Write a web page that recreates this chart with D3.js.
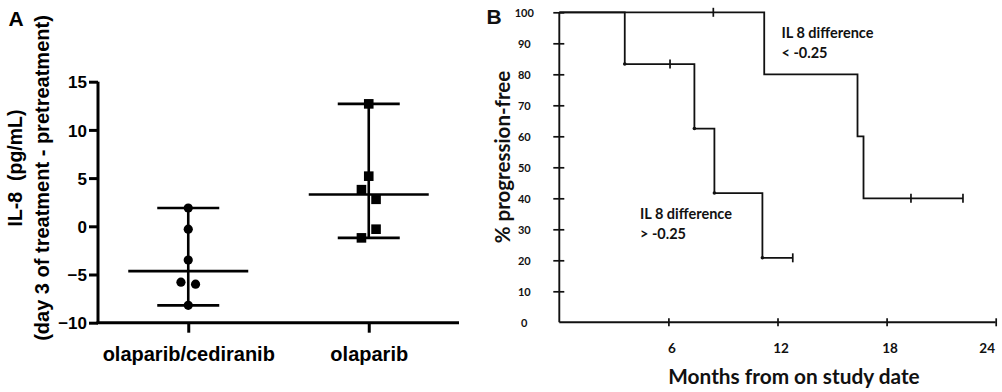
<!DOCTYPE html>
<html>
<head>
<meta charset="utf-8">
<script src="https://cdn.jsdelivr.net/npm/d3@7"></script>
<style>
  body { margin: 0; background: #fff; }
  svg { display: block; }
  .pa text { font-family: "Liberation Sans", Arial, sans-serif; font-weight: bold; fill: #000; }
  .pb text { font-family: "Lato", "Open Sans", sans-serif; fill: #111; }
</style>
</head>
<body>
<div id="chart"></div>
<script>
// panel A: IL-8 change per arm
const armNames = ["olaparib/cediranib", "olaparib"];
const comboVals = [1.9, -0.3, -3.5, -5.8, -6.0, -8.2];
const comboJitter = [0, 0, 0, -1, 1, 0];
const olapVals = [12.7, 5.2, 3.8, 2.8, -0.3, -1.2];
const olapJitter = [0, 0, -1, 1, 1, -1];
const aTicks = [-10, -5, 0, 5, 10, 15];

// panel B: Kaplan-Meier, progression-free
const lowTimes = [0, 3.6, 7.43, 8.53, 11.17];
const lowSurv = [100, 83.3, 62.5, 41.7, 20.8];
const lowEnd = 12.84;
const lowCensT = [6.09, 12.84];
const lowCensS = [83.3, 20.8];
const highTimes = [0, 11.27, 16.4, 16.73];
const highSurv = [100, 80, 60, 40];
const highEnd = 22.2;
const highCensT = [8.47, 19.34, 22.2];
const highCensS = [100, 40, 40];
const bYTicks = [0, 10, 20, 30, 40, 50, 60, 70, 80, 90, 100];
const bXTicks = [6, 12, 18, 24];

const W = 1002, H = 392;
const svg = d3.select("#chart").append("svg").attr("width", W).attr("height", H);

// ---------- panel A ----------
const ga = svg.append("g").attr("class", "pa");
const yA = d3.scaleLinear().domain([-10, 15]).range([322.7, 81.7]);
const xA = d3.scalePoint().domain(armNames).range([98, 459]).padding(0.5);

ga.append("text").attr("x", 16).attr("y", 26).attr("text-anchor", "middle")
  .style("font-size", "21px").text("A");

const yAxisA = ga.append("g").attr("transform", "translate(98,0)")
  .call(d3.axisLeft(yA).tickValues(aTicks).tickSize(9).tickPadding(2).tickFormat(d3.format("d")));
yAxisA.select(".domain").attr("stroke", "#000").attr("stroke-width", 3).attr("d", `M0,${yA(15)}V${yA(-10)}`);
yAxisA.selectAll(".tick line").attr("stroke", "#000").attr("stroke-width", 3);
yAxisA.selectAll(".tick text").style("font-size", "17px").style("font-family", "'Liberation Sans', Arial, sans-serif").style("font-weight", "bold").attr("dy", "0.36em");

const xAxisA = ga.append("g").attr("transform", `translate(0,${yA(-10)})`)
  .call(d3.axisBottom(xA).tickSize(10).tickPadding(14));
xAxisA.select(".domain").attr("stroke", "#000").attr("stroke-width", 3).attr("d", "M96.5,0H459");
xAxisA.selectAll(".tick line").attr("stroke", "#000").attr("stroke-width", 3);
xAxisA.selectAll(".tick text").style("font-size", "20px").style("font-family", "'Liberation Sans', Arial, sans-serif").style("font-weight", "bold");

ga.append("text").attr("transform", "translate(22,168) rotate(-90)")
  .attr("text-anchor", "middle").style("font-size", "19.5px").style("white-space", "pre").text("IL-8  (pg/mL)");
ga.append("text").attr("transform", "translate(49,178) rotate(-90)")
  .attr("text-anchor", "middle").style("font-size", "20px").text("(day 3 of treatment - pretreatment)");

const groups = [
  { arm: armNames[0], vals: comboVals, jit: comboJitter, shape: "circle" },
  { arm: armNames[1], vals: olapVals, jit: olapJitter, shape: "square" }
];
groups.forEach(g => {
  const cx = xA(g.arm);
  const med = d3.median(g.vals);
  const lo = d3.min(g.vals), hi = d3.max(g.vals);
  const wrap = ga.append("g").attr("stroke", "#000").attr("stroke-width", 2.6);
  wrap.append("line").attr("x1", cx).attr("x2", cx).attr("y1", yA(hi)).attr("y2", yA(lo));
  wrap.append("line").attr("x1", cx - 31).attr("x2", cx + 31).attr("y1", yA(hi)).attr("y2", yA(hi));
  wrap.append("line").attr("x1", cx - 31).attr("x2", cx + 31).attr("y1", yA(lo)).attr("y2", yA(lo));
  wrap.append("line").attr("x1", cx - 60).attr("x2", cx + 60).attr("y1", yA(med)).attr("y2", yA(med));
  const pts = g.vals.map((v, i) => ({ v, x: cx + g.jit[i] * 7.3 }));
  if (g.shape === "circle") {
    ga.selectAll(null).data(pts).join("circle")
      .attr("cx", d => d.x).attr("cy", d => yA(d.v)).attr("r", 4.6).attr("fill", "#000");
  } else {
    ga.selectAll(null).data(pts).join("rect")
      .attr("x", d => d.x - 4.8).attr("y", d => yA(d.v) - 4.8)
      .attr("width", 9.6).attr("height", 9.6).attr("fill", "#000");
  }
});

// ---------- panel B ----------
const gb = svg.append("g").attr("class", "pb");
const xB = d3.scaleLinear().domain([0, 24]).range([559.3, 995.7]);
const yB = d3.scaleLinear().domain([0, 100]).range([322.3, 12.3]);

gb.append("text").attr("x", 494).attr("y", 24).attr("text-anchor", "middle")
  .style("font-family", "'Liberation Sans', Arial, sans-serif").style("font-weight", "bold")
  .style("font-size", "21px").text("B");

const yAxisB = gb.append("g").attr("transform", `translate(${xB(0)},0)`)
  .call(d3.axisLeft(yB).tickValues(bYTicks).tickSize(6).tickPadding(0));
yAxisB.select(".domain").attr("stroke", "#111").attr("stroke-width", 1.9).attr("d", `M0,${yB(100)}V${yB(0)}`);
yAxisB.selectAll(".tick line").attr("x1", d => d === 0 ? 0 : -6).attr("x2", d => d === 0 ? 0 : 5)
  .attr("stroke", "#111").attr("stroke-width", 1.7);
yAxisB.selectAll(".tick text").attr("x", -35).attr("text-anchor", "middle").attr("dy", "0.35em")
  .style("font-family", "Lato, sans-serif").style("font-weight", "bold").style("font-size", "11px");

const xAxisB = gb.append("g").attr("transform", `translate(0,${yB(0)})`)
  .call(d3.axisBottom(xB).tickValues(bXTicks).tickSize(4).tickPadding(17));
xAxisB.select(".domain").attr("stroke", "#111").attr("stroke-width", 1.9).attr("d", `M${xB(0)},0H${xB(24)}`);
xAxisB.selectAll(".tick line").attr("y1", -4).attr("y2", 4).attr("stroke", "#111").attr("stroke-width", 1.7);
xAxisB.selectAll(".tick text").attr("dx", d => d === 24 ? -9 : 3)
  .style("font-family", "Lato, sans-serif").style("font-weight", "bold").style("font-size", "13.5px");

gb.append("text").attr("x", 794).attr("y", 384).attr("text-anchor", "middle")
  .style("font-weight", "bold").style("font-size", "20.8px").text("Months from on study date");
gb.append("text").attr("transform", "translate(510,157) rotate(-90)").attr("text-anchor", "middle")
  .style("font-weight", "bold").style("font-size", "20.5px").text("% progression-free");

const step = d3.line().x(d => xB(d[0])).y(d => yB(d[1])).curve(d3.curveStepAfter);
function kmPoints(ts, ss, end) {
  const p = ts.map((t, i) => [t, ss[i]]);
  p.push([end, ss[ss.length - 1]]);
  return p;
}
gb.append("path").attr("d", step(kmPoints(highTimes, highSurv, highEnd)))
  .attr("fill", "none").attr("stroke", "#111").attr("stroke-width", 1.8);
gb.append("path").attr("d", step(kmPoints(lowTimes, lowSurv, lowEnd)))
  .attr("fill", "none").attr("stroke", "#111").attr("stroke-width", 1.8);

const cens = highCensT.map((t, i) => [t, highCensS[i]]).concat(lowCensT.map((t, i) => [t, lowCensS[i]]));
gb.selectAll(".cens").data(cens).join("line").attr("class", "cens")
  .attr("x1", d => xB(d[0])).attr("x2", d => xB(d[0]))
  .attr("y1", d => yB(d[1]) - 4.5).attr("y2", d => yB(d[1]) + 4.5)
  .attr("stroke", "#111").attr("stroke-width", 1.7);

gb.selectAll(".ev").data(lowTimes.slice(1).map((t, i) => [t, lowSurv[i + 1]])).join("circle").attr("class", "ev")
  .attr("cx", d => xB(d[0])).attr("cy", d => yB(d[1])).attr("r", 1.8).attr("fill", "#111");

const notes = [
  { x: 781.5, y: 38, lines: ["IL 8 difference", "< -0.25"] },
  { x: 640, y: 219, lines: ["IL 8 difference", "> -0.25"] }
];
notes.forEach(n => {
  n.lines.forEach((l, i) => {
    gb.append("text").attr("x", n.x).attr("y", n.y + i * 20)
      .style("font-weight", "bold").style("font-size", "14.5px").text(l);
  });
});
</script>
</body>
</html>
